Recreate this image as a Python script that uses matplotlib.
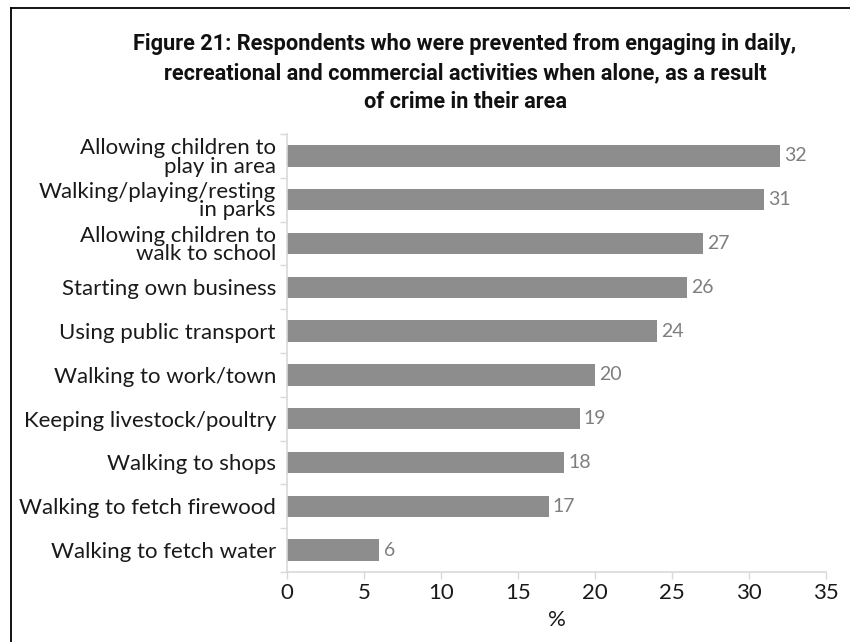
import matplotlib
matplotlib.use("Agg")
import matplotlib.pyplot as plt
from matplotlib.lines import Line2D

categories = [
    "Allowing children to\nplay in area",
    "Walking/playing/resting\nin parks",
    "Allowing children to\nwalk to school",
    "Starting own business",
    "Using public transport",
    "Walking to work/town",
    "Keeping livestock/poultry",
    "Walking to shops",
    "Walking to fetch firewood",
    "Walking to fetch water",
]
values = [32, 31, 27, 26, 24, 20, 19, 18, 17, 6]
x_ticks = [0, 5, 10, 15, 20, 25, 30, 35]

title = ("Figure 21: Respondents who were prevented from engaging in daily,\n"
         "recreational and commercial activities when alone, as a result\n"
         "of crime in their area")

label_font = ["Lato", "DejaVu Sans"]
title_font = ["Roboto", "DejaVu Sans"]

fig = plt.figure(figsize=(8.5, 6.42), dpi=100)
W, H = 850, 642
ax = fig.add_axes([287 / W, 1 - 572 / H, (826 - 287) / W, (572 - 134) / H])

ypos = list(range(len(categories)))
ax.barh(ypos, values, height=0.49, color="#8d8d8d", zorder=2)
ax.set_ylim(len(categories) - 0.5, -0.5)
ax.set_xlim(0, 35)

# category boundaries carry the y tick marks; labels sit at bar centres
ax.set_yticks([i - 0.5 for i in range(len(categories) + 1)])
ax.set_yticklabels([])
ax.set_yticks(ypos, minor=True)
ax.set_yticklabels(categories, minor=True, fontsize=16, family=label_font,
                   color="#1a1a1a", linespacing=0.92)
ax.tick_params(axis="y", which="major", length=5, color="#d9d9d9", width=1)
ax.tick_params(axis="y", which="minor", length=0, pad=8)

ax.set_xticks(x_ticks)
ax.set_xticklabels([str(t) for t in x_ticks], fontsize=16, family=label_font,
                   color="#1a1a1a")
ax.tick_params(axis="x", length=5, color="#d9d9d9", width=1, pad=3)
ax.set_xlabel("%", fontsize=16, family=label_font, color="#1a1a1a", labelpad=5)

for side in ("top", "right"):
    ax.spines[side].set_visible(False)
for side in ("left", "bottom"):
    ax.spines[side].set_color("#d9d9d9")
    ax.spines[side].set_linewidth(1.2)

for y, v in zip(ypos, values):
    ax.annotate(str(v), (v, y), xytext=(3, 0), textcoords="offset points",
                va="center", ha="left", fontsize=14, family=label_font,
                color="#7f7f7f")

fig.text(465 / W, 1 - 73 / H, title, ha="center", va="center", fontsize=15.7,
         fontweight="bold", family=title_font, color="#111111", linespacing=1.4)

# frame around the figure (only top and left edges fall inside the canvas)
fig.add_artist(Line2D([11 / W, 11 / W], [0, 1 - 8 / H], transform=fig.transFigure,
                      color="black", linewidth=1.3))
fig.add_artist(Line2D([11 / W, 1], [1 - 8 / H, 1 - 8 / H], transform=fig.transFigure,
                      color="black", linewidth=1.3))

fig.savefig("out.png", dpi=100)
